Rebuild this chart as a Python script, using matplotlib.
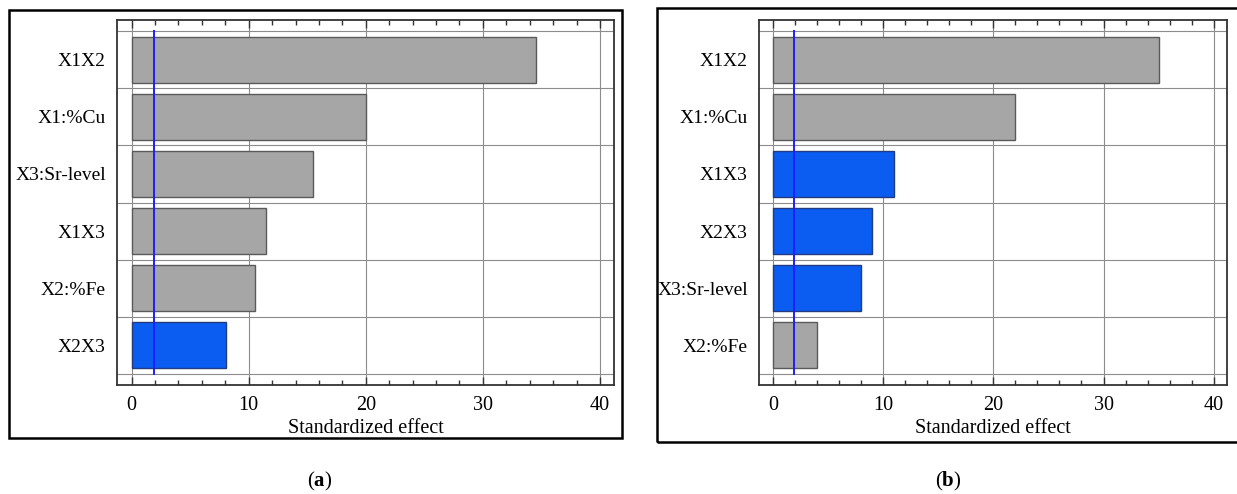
import matplotlib
matplotlib.use('Agg')
import matplotlib.pyplot as plt
from matplotlib.patches import Rectangle
from matplotlib.ticker import MultipleLocator

plt.rcParams['font.family'] = ['Liberation Serif', 'DejaVu Serif']
plt.rcParams['mathtext.fontset'] = 'custom'
plt.rcParams['mathtext.bf'] = 'Liberation Serif:bold'
plt.rcParams['mathtext.rm'] = 'Liberation Serif'

# Pareto chart data: standardized effects, sorted from largest to smallest
terms_a = ['X1X2', 'X1:%Cu', 'X3:Sr-level', 'X1X3', 'X2:%Fe', 'X2X3']
effects_a = [34.5, 20.0, 15.5, 11.5, 10.5, 8.1]
signs_a = ['+', '+', '+', '+', '+', '-']

terms_b = ['X1X2', 'X1:%Cu', 'X1X3', 'X2X3', 'X3:Sr-level', 'X2:%Fe']
effects_b = [35.0, 22.0, 11.0, 9.0, 8.0, 4.0]
signs_b = ['+', '+', '-', '-', '-', '+']

# significance limit (t value at 95 %)
limit_a = 1.95
limit_b = 1.9

panel_labels = ['a', 'b']

POS_COLOR = '#a6a6a6'
NEG_COLOR = '#0b5cf0'
LIMIT_COLOR = '#1e1eff'
GRID_COLOR = '#8c8c8c'


def pareto(ax, terms, effects, signs, limit):
    n = len(terms)
    ypos = list(range(n))
    colors = [POS_COLOR if s == '+' else NEG_COLOR for s in signs]
    edges = ['#5a5a5a' if s == '+' else '#233c80' for s in signs]
    ax.barh(ypos, effects, height=0.81, color=colors, edgecolor=edges,
            linewidth=1.0, zorder=2)
    ax.set_ylim(n - 0.3, -0.7)
    ax.set_xlim(-1.25, 41.2)

    # grid: vertical at major ticks, horizontal between the bars
    for x in range(0, 41, 10):
        ax.axvline(x, color=GRID_COLOR, lw=0.8, zorder=1)
    for k in range(n + 1):
        ax.axhline(k - 0.5, color=GRID_COLOR, lw=0.8, zorder=1)
    ax.plot([limit, limit], [-0.5, n - 0.5], color=LIMIT_COLOR, lw=1.4,
            zorder=3)

    ax.set_yticks(ypos)
    ax.set_yticklabels(terms, fontsize=14)
    ax.tick_params(axis='y', length=0, pad=8)
    ax.xaxis.set_major_locator(MultipleLocator(10))
    ax.xaxis.set_minor_locator(MultipleLocator(2))
    ax.tick_params(axis='x', which='major', direction='in', length=6,
                   width=1.0, top=True, labelsize=14.5, pad=8,
                   color='#333333')
    ax.tick_params(axis='x', which='minor', direction='in', length=3.5,
                   width=1.0, top=True, color='#333333')
    ax.set_xlabel('Standardized effect', fontsize=14.5, labelpad=3)
    for sp in ax.spines.values():
        sp.set_color('#333333')
        sp.set_linewidth(1.3)


fig = plt.figure(figsize=(12.37, 4.94), dpi=100)

ax_a = fig.add_axes([0.0946, 0.2206, 0.4018, 0.7389])
ax_b = fig.add_axes([0.6136, 0.2206, 0.3783, 0.7389])
pareto(ax_a, terms_a, effects_a, signs_a, limit_a)
pareto(ax_b, terms_b, effects_b, signs_b, limit_b)

# frames around each panel
fig.patches.append(Rectangle((0.0073, 0.1134), 0.4955, 0.8664, fill=False,
                             lw=1.8, ec='black', transform=fig.transFigure))
fig.patches.append(Rectangle((0.5311, 0.1053), 0.48, 0.8785, fill=False,
                             lw=1.8, ec='black', transform=fig.transFigure))

for x, lab in zip([0.2587, 0.7664], panel_labels):
    fig.text(x, 0.026, r'($\mathbf{%s}$)' % lab, ha='center', va='center',
             fontsize=15)

fig.savefig('out.png', dpi=100)
